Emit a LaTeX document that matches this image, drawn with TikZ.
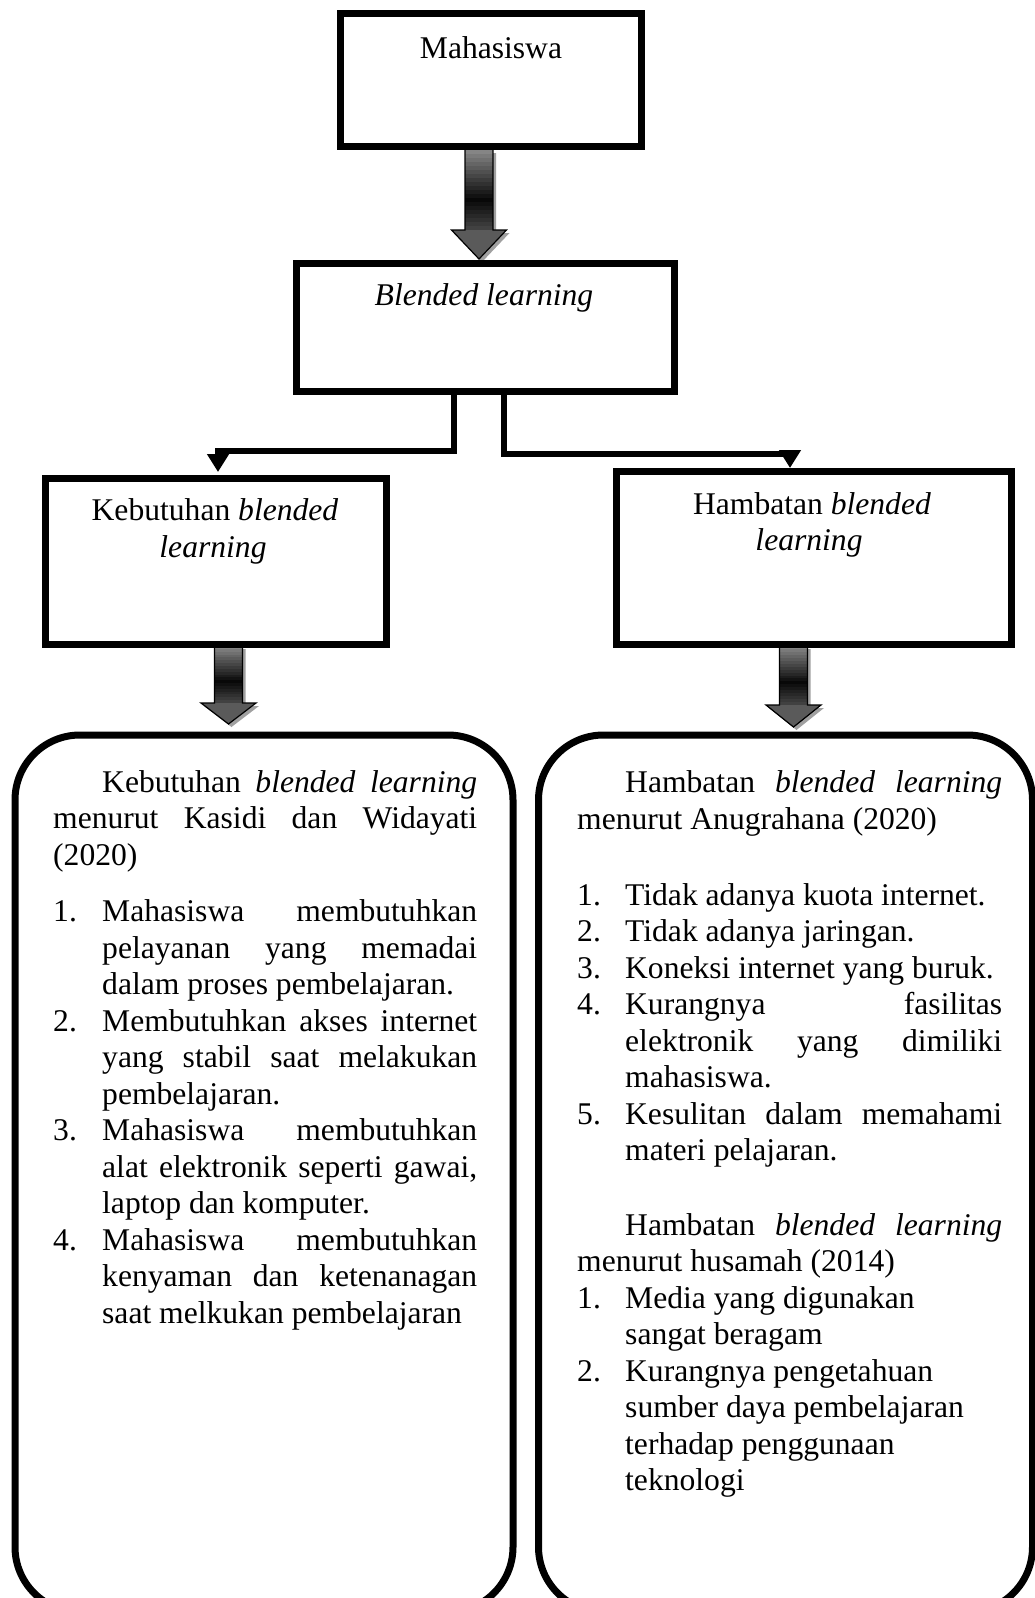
\documentclass[tikz,border=0pt]{standalone}
\usepackage{fontspec}
\setmainfont{Liberation Serif}
\usetikzlibrary{arrows.meta}
\newcommand\fs{\fontsize{31.6pt}{36.5pt}\selectfont}
\newcommand\jfy[2]{\makebox[#1][s]{#2}}
\newcommand\txl[4]{\node[txt] (#1) at (#2,#3) {#4};}
% block arrow: centre x, top y, base of head y, tip y
\newcommand\blockarrow[4]{%
  \begin{scope}[shift={(#1,0)}]
    \fill[shadowgray, shift={(3,3)}] (-14,#2) -- (-14,#3) -- (-27.5,#3) -- (0,#4) -- (27.5,#3) -- (14,#3) -- (14,#2) -- cycle;
    \foreach \i in {0,...,19}{%
      \pgfmathsetmacro\ya{#2+(#3-#2)*\i/20}%
      \pgfmathsetmacro\yb{#2+(#3-#2)*(\i+1)/20+0.6}%
      \pgfmathsetmacro\pp{\i<12 ? 48+4.1*\i : 97-3.2*(\i-12)}%
      \fill[black!\pp] (-14,\ya) rectangle (14,\yb);
    }
    \fill[headgray] (-27.5,#3) -- (0,#4) -- (27.5,#3) -- cycle;
    \draw[line width=1.2pt, line join=miter] (-14,#2) -- (-14,#3) -- (-27.5,#3) -- (0,#4) -- (27.5,#3) -- (14,#3) -- (14,#2);
  \end{scope}}
\definecolor{shadowgray}{HTML}{A0A0A0}
\definecolor{headgray}{HTML}{5A5A5A}
\begin{document}
\begin{tikzpicture}[x=1pt, y=-1pt,
  txt/.style={anchor=base west, inner sep=0pt, font=\fs},
  hd/.style={anchor=base, inner sep=0pt, font=\fs},
  box/.style={draw, line width=7pt, inner sep=0pt},
  rb/.style={draw, line width=7pt, inner sep=0pt, rounded corners=65pt},
  conn/.style={line width=6pt, -{Triangle[width=21pt,length=18pt]}}]
\useasboundingbox (0,0) rectangle (1035,1598);
\clip (0,0) rectangle (1035,1598);

% rounded boxes (bottoms run off the page)
\node[rb, minimum width=498pt, minimum height=877pt] (lbox) at (264,1173.5) {};
\node[rb, minimum width=494pt, minimum height=877pt] (rbox) at (785.5,1173.5) {};

% block arrows
\blockarrow{479}{150}{230}{259}
\blockarrow{228.5}{646}{703}{724}
\blockarrow{793.5}{646}{705}{727}

% rectangular boxes
\node[box, minimum width=301pt, minimum height=133pt] (mhs) at (491,80) {};
\node[box, minimum width=378pt, minimum height=128pt] (bl) at (485.5,327.5) {};
\node[box, minimum width=341pt, minimum height=166pt] (keb) at (216,561.5) {};
\node[box, minimum width=395pt, minimum height=173pt] (hb) at (814,558) {};

% connectors
\draw[conn] ([xshift=-31.5pt,yshift=3pt]bl.south) -- ++(0,59) -| ([xshift=2pt,yshift=3pt]keb.north);
\draw[conn] ([xshift=18.5pt,yshift=3pt]bl.south) -- ++(0,62) -| ([xshift=-24pt]hb.north);

% box titles
\node[hd] (tm) at (491,58) {Mahasiswa};
\node[hd] (tb) at (484,305) {\textit{Blended learning}};
\node[hd] (tk1) at (215,520) {Kebutuhan \textit{blended}};
\node[hd] (tk2) at (213,557) {\textit{learning}};
\node[hd] (th1) at (812,514) {Hambatan \textit{blended}};
\node[hd] (th2) at (809,550) {\textit{learning}};

% left column
\txl{l1}{102}{792}{\jfy{375pt}{Kebutuhan \textit{blended learning}}}
\txl{l2}{53}{828.5}{\jfy{424pt}{menurut Kasidi dan Widayati}}
\txl{l3}{53}{865}{(2020)}
\txl{l4}{53}{921.5}{\makebox[49pt][l]{1.}\jfy{375pt}{Mahasiswa membutuhkan}}
\txl{l5}{102}{958}{\jfy{375pt}{pelayanan yang memadai}}
\txl{l6}{102}{994.5}{dalam proses pembelajaran.}
\txl{l7}{53}{1031}{\makebox[49pt][l]{2.}\jfy{375pt}{Membutuhkan akses internet}}
\txl{l8}{102}{1067.5}{\jfy{375pt}{yang stabil saat melakukan}}
\txl{l9}{102}{1104}{pembelajaran.}
\txl{l10}{53}{1140.5}{\makebox[49pt][l]{3.}\jfy{375pt}{Mahasiswa membutuhkan}}
\txl{l11}{102}{1177}{\jfy{375pt}{alat elektronik seperti gawai,}}
\txl{l12}{102}{1213.5}{laptop dan komputer.}
\txl{l13}{53}{1250}{\makebox[49pt][l]{4.}\jfy{375pt}{Mahasiswa membutuhkan}}
\txl{l14}{102}{1286.5}{\jfy{375pt}{kenyaman dan ketenanagan}}
\txl{l15}{102}{1323}{saat melkukan pembelajaran}

% right column
\txl{r1}{625}{792}{\jfy{377pt}{Hambatan \textit{blended learning}}}
\txl{r2}{577}{829.5}{menurut Anugrahana (2020)}
\txl{r3}{577}{905}{\makebox[48pt][l]{1.}Tidak adanya kuota internet.}
\txl{r4}{577}{941.5}{\makebox[48pt][l]{2.}Tidak adanya jaringan.}
\txl{r5}{577}{978}{\makebox[48pt][l]{3.}Koneksi internet yang buruk.}
\txl{r6}{577}{1014.5}{\makebox[48pt][l]{4.}\jfy{377pt}{Kurangnya fasilitas}}
\txl{r7}{625}{1051}{\jfy{377pt}{elektronik yang dimiliki}}
\txl{r8}{625}{1087.5}{mahasiswa.}
\txl{r9}{577}{1124}{\makebox[48pt][l]{5.}\jfy{377pt}{Kesulitan dalam memahami}}
\txl{r10}{625}{1160.5}{materi pelajaran.}
\txl{r11}{625}{1235}{\jfy{377pt}{Hambatan \textit{blended learning}}}
\txl{r12}{577}{1271.5}{menurut husamah (2014)}
\txl{r13}{577}{1308}{\makebox[48pt][l]{1.}Media yang digunakan}
\txl{r14}{625}{1344.5}{sangat beragam}
\txl{r15}{577}{1381}{\makebox[48pt][l]{2.}Kurangnya pengetahuan}
\txl{r16}{625}{1417.5}{sumber daya pembelajaran}
\txl{r17}{625}{1454}{terhadap penggunaan}
\txl{r18}{625}{1490.5}{teknologi}
\end{tikzpicture}
\end{document}
